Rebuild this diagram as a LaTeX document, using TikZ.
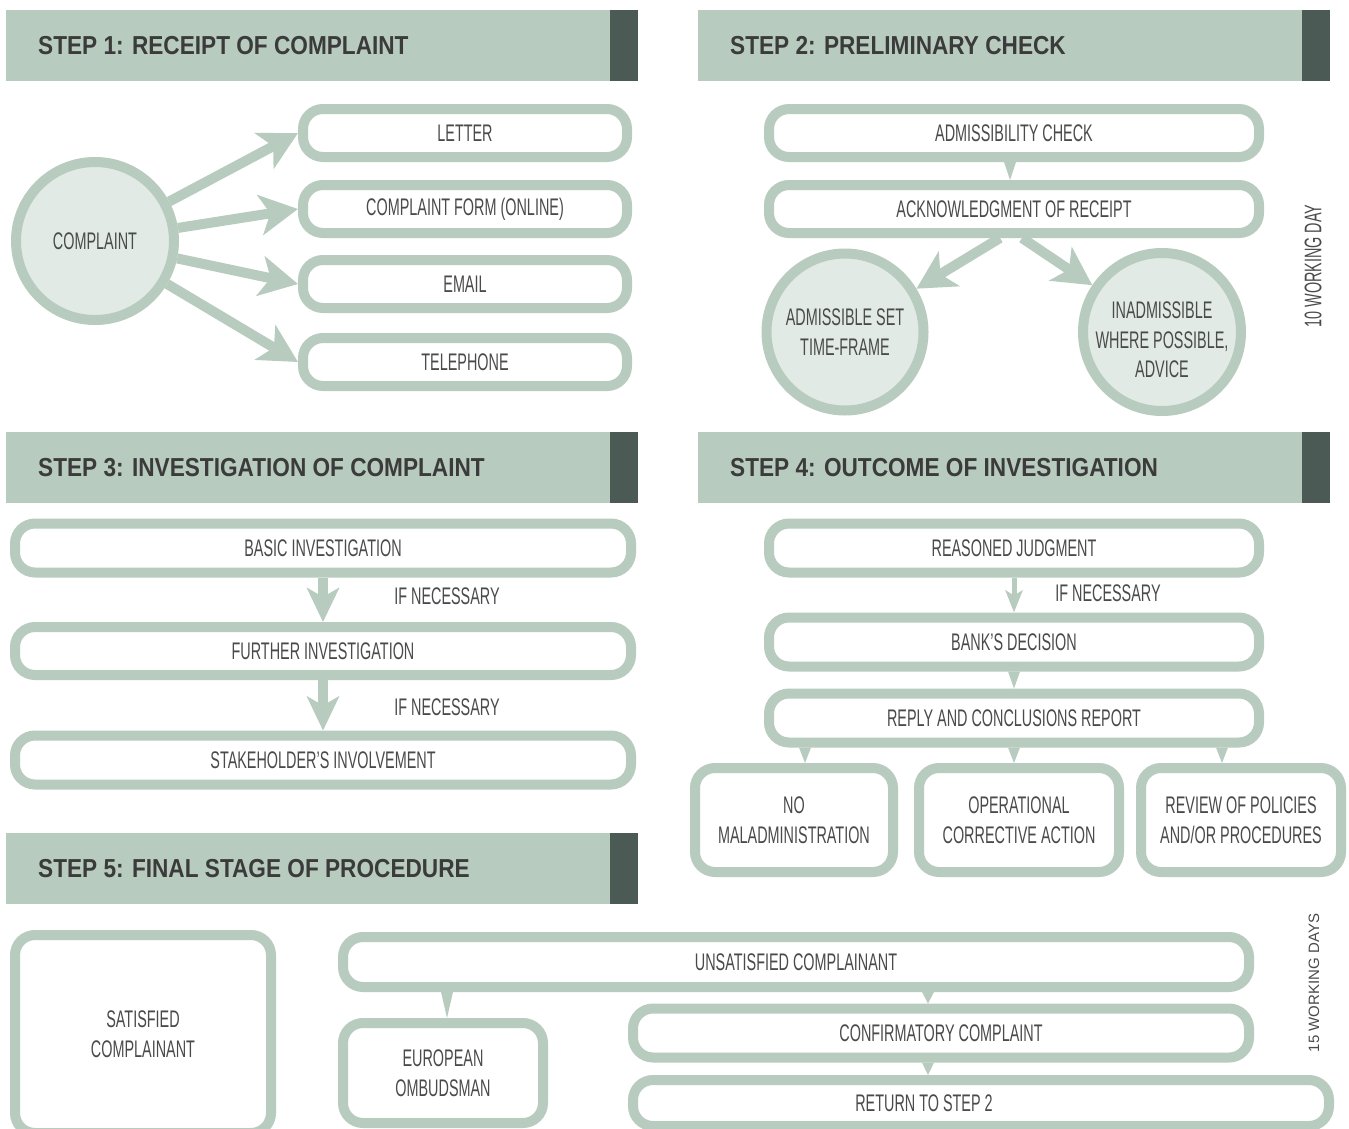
\documentclass[tikz,border=0pt]{standalone}
\usepackage{fontspec}
\setmainfont{Liberation Sans}[FakeStretch=0.6]
\newfontfamily\headfont{Liberation Sans}[FakeStretch=0.87]
\newfontfamily\daysfont{Liberation Sans}
\usepackage{tikz}
\usetikzlibrary{arrows.meta,calc,positioning}
\definecolor{sage}{HTML}{B7CBBF}
\definecolor{slate}{HTML}{4B5A54}
\definecolor{mint}{HTML}{E1EAE5}
\definecolor{ink}{HTML}{4A4A4A}
\definecolor{headink}{HTML}{3B3B3B}
% small wedge from the bottom of #1 to the top of #2 at x=#3
\newcommand{\tipto}[3]{%
  \fill[sage] ($(#1.south -| #3,0)+(-6,0)$) -- ($(#1.south -| #3,0)+(6,0)$)
    -- (#2.north -| #3,0) -- cycle;}

\begin{document}
\begin{tikzpicture}[x=1pt,y=-1pt,
  pill/.style={draw=sage,line width=10pt,fill=white,rounded corners=20pt,inner sep=0pt,
    align=center,text=ink,font=\fontsize{24}{29.5}\selectfont},
  blob/.style={circle,draw=sage,line width=10pt,fill=mint,inner sep=0pt,
    align=center,text=ink,font=\fontsize{24}{29.5}\selectfont},
  srcbox/.style={pill,minimum width=324pt,minimum height=48pt},
  midbox/.style={pill,minimum width=490pt,minimum height=48pt},
  widebox/.style={pill,minimum width=616pt,minimum height=48pt},
  outbox/.style={pill,minimum width=200pt,minimum height=104pt},
  note/.style={text=ink,inner sep=0pt,align=center,font=\fontsize{24}{29.5}\selectfont},
  headtxt/.style={text=headink,inner sep=0pt,font=\headfont\bfseries\fontsize{26}{30}\selectfont},
  bigarrow/.style={draw=sage,line width=10pt,-{Stealth[length=38pt,width=40pt,inset=10pt]}},
  downarrow/.style={draw=sage,line width=10pt,-{Stealth[length=34pt,width=32pt,inset=9pt]}},
  smallarrow/.style={draw=sage,line width=5pt,-{Stealth[length=22pt,width=17pt,inset=5pt]}}]
  \useasboundingbox (0,0) rectangle (1349,1128);

  % step headers
  \foreach \nm/\x/\y/\txt in {head1/6/10/{STEP 1: RECEIPT OF COMPLAINT},
      head2/698/10/{STEP 2: PRELIMINARY CHECK},
      head3/6/432/{STEP 3: INVESTIGATION OF COMPLAINT},
      head4/698/432/{STEP 4: OUTCOME OF INVESTIGATION},
      head5/6/833/{STEP 5: FINAL STAGE OF PROCEDURE}}{
    \fill[sage] (\x,\y) rectangle ++(604,71);
    \fill[slate] (\x+604,\y) rectangle ++(28,71);
    \node[headtxt,anchor=west] (\nm) at (\x+32,\y+36) {\txt};
  }

  % step 1
  \node[blob,minimum size=158pt] (complaint) at (95,241) {COMPLAINT};
  \foreach \nm/\y/\txt in {letter/133/LETTER,form/209/{COMPLAINT FORM (ONLINE)},
      email/284/EMAIL,phone/362/TELEPHONE}{
    \node[srcbox] (\nm) at (465,\y) {\txt};
    \draw[bigarrow] (complaint) -- (\nm.west);
  }

  % step 2
  \node[midbox] (admcheck) at (1014,133) {ADMISSIBILITY CHECK};
  \node[midbox] (ack) at (1014,209) {ACKNOWLEDGMENT OF RECEIPT};
  \tipto{admcheck}{ack}{1010}
  \node[blob,minimum size=157pt] (adm) at (845,332) {ADMISSIBLE SET\\TIME-FRAME};
  \node[blob,minimum size=158pt,
    label={[note,yshift=-8pt]center:INADMISSIBLE\\WHERE POSSIBLE,\\ADVICE}] (inadm) at (1162,332) {};
  \draw[bigarrow] ([xshift=-14pt]ack.south) -- (adm);
  \draw[bigarrow] ([xshift=8pt]ack.south) -- (inadm);
  \node[note,rotate=90] (days10) at (1313,266) {10 WORKING DAY};

  % step 3
  \node[widebox,minimum height=49pt] (basic) at (323,548) {BASIC INVESTIGATION};
  \node[widebox] (further) at (323,651) {FURTHER INVESTIGATION};
  \node[widebox,minimum height=49pt] (stake) at (323,760) {STAKEHOLDER'S INVOLVEMENT};
  \draw[downarrow] (basic.south) -- (further.north);
  \draw[downarrow] (further.south) -- (stake.north);
  \node[note] (ifnec1) at (447,596) {IF NECESSARY};
  \node[note] (ifnec2) at (447,707) {IF NECESSARY};

  % step 4
  \node[midbox,minimum height=49pt] (judg) at (1014,548) {REASONED JUDGMENT};
  \node[midbox,minimum height=49pt] (bank) at (1014,642) {BANK'S DECISION};
  \node[midbox,minimum height=49pt] (reply) at (1014,718) {REPLY AND CONCLUSIONS REPORT};
  \draw[smallarrow] (judg.south) -- (bank.north);
  \node[note] (ifnec3) at (1108,593) {IF NECESSARY};
  \tipto{bank}{reply}{1014}
  \node[outbox,minimum width=198pt] (nomal) at (794,820) {NO\\MALADMINISTRATION};
  \node[outbox] (oper) at (1019,820) {OPERATIONAL\\CORRECTIVE ACTION};
  \node[outbox] (review) at (1241,820) {REVIEW OF POLICIES\\AND/OR PROCEDURES};
  \tipto{reply}{nomal}{805}
  \tipto{reply}{oper}{1014}
  \tipto{reply}{review}{1222}

  % step 5
  \node[pill,minimum width=256pt,minimum height=198pt] (satis) at (143,1034) {SATISFIED\\COMPLAINANT};
  \node[pill,minimum width=906pt,minimum height=50pt] (unsat) at (796,962) {UNSATISFIED COMPLAINANT};
  \node[pill,minimum width=200pt,minimum height=100pt] (ombud) at (443,1073) {EUROPEAN\\OMBUDSMAN};
  \node[widebox,minimum height=49pt] (confirm) at (941,1033) {CONFIRMATORY COMPLAINT};
  \node[pill,minimum width=696pt,minimum height=46pt,
    label={[note,xshift=-57pt]center:RETURN TO STEP 2}] (ret) at (981,1103) {};
  \tipto{unsat}{ombud}{447}
  \tipto{unsat}{confirm}{928}
  \tipto{confirm}{ret}{928}
  \node[rotate=90,inner sep=0pt,text=ink,font=\daysfont\fontsize{15}{18}\selectfont] (days15)
    at (1314,983) {15 WORKING DAYS};
\end{tikzpicture}
\end{document}
